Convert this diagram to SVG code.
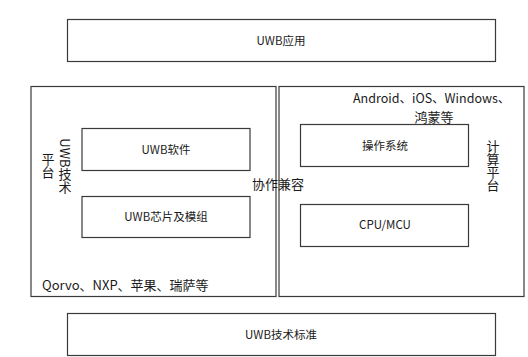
<svg xmlns="http://www.w3.org/2000/svg" width="528" height="357" viewBox="0 0 528 357">
<style>
.box{fill:#fff;stroke:#3a3a3a;stroke-width:1.2}
.t{font-family:"Noto Sans CJK SC","Liberation Sans",sans-serif;fill:#1a1a1a;font-size:11.5px;text-anchor:middle;dominant-baseline:central}
.s{text-anchor:start}
.l{font-size:13px}
.a{font-size:12.5px}
.v{writing-mode:vertical-rl;font-size:13px}
</style>
<rect width="528" height="357" fill="#fff"/>
<g id="app"><rect class="box" x="67.5" y="19.5" width="428" height="42"/><text class="t" x="281" y="40">UWB应用</text></g>
<g id="uwb-platform"><rect class="box" x="31" y="86.5" width="245" height="210"/>
<text class="t v" x="65" y="166">UWB技术</text>
<text class="t v" x="48" y="166">平台</text>
<text class="t l s" x="42" y="284">Qorvo、NXP、苹果、瑞萨等</text></g>
<g id="uwb-software"><rect class="box" x="82" y="128.5" width="168" height="42"/><text class="t" x="166" y="149">UWB软件</text></g>
<g id="uwb-chip"><rect class="box" x="82" y="196.5" width="168" height="41"/><text class="t" x="166" y="216">UWB芯片及模组</text></g>
<g id="compute-platform"><rect class="box" x="279" y="86.5" width="245" height="210"/>
<text class="t a s" x="353" y="97">Android、iOS、Windows、</text>
<text class="t l" x="434" y="116">鸿蒙等</text>
<text class="t v" x="493" y="166">计算平台</text></g>
<g id="os"><rect class="box" x="300.5" y="124.5" width="168" height="42"/><text class="t" x="385" y="145">操作系统</text></g>
<g id="cpu"><rect class="box" x="300.5" y="204.5" width="168" height="42"/><text class="t" x="385" y="224">CPU/MCU</text></g>
<g id="connectors"><text class="t l" x="278" y="183">协作兼容</text></g>
<g id="standard"><rect class="box" x="67.5" y="313.5" width="428" height="42"/><text class="t" x="281" y="334">UWB技术标准</text></g>
</svg>
